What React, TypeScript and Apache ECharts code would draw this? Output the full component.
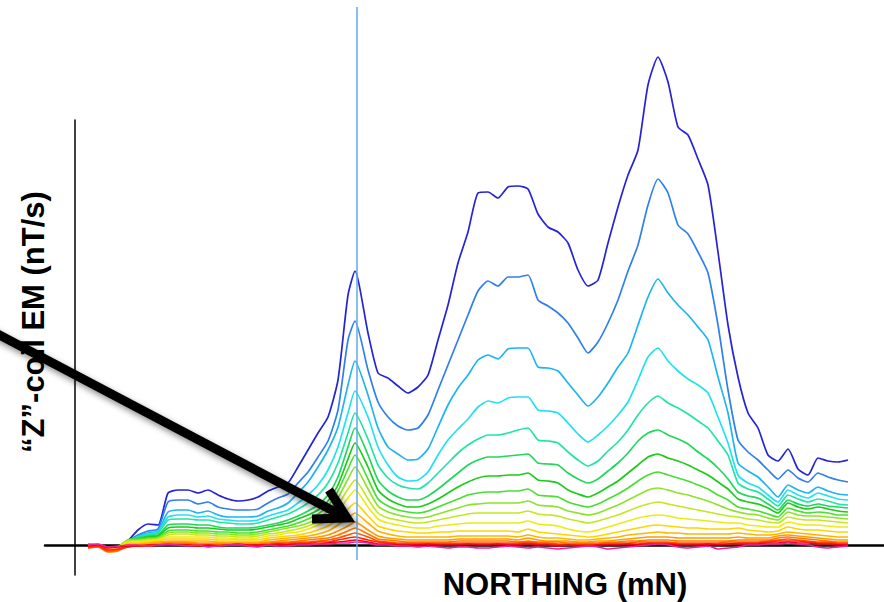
import React, { useEffect, useRef } from "react";
import * as echarts from "echarts";

// Station positions along the profile (arbitrary northing units)
const NORTHING = [
  13, 23, 33, 43, 53, 63, 73, 83, 93, 103, 113, 123, 133, 143, 153, 163, 173, 183, 193, 203,
  213, 223, 233, 243, 253, 263, 273, 280, 293, 303, 313, 323, 333, 343, 353, 363, 373, 383, 393, 403,
  413, 423, 433, 443, 453, 463, 473, 483, 493, 503, 513, 523, 533, 543, 553, 563, 573, 583, 593, 603,
  613, 623, 633, 643, 653, 663, 673, 683, 693, 703, 713, 723, 733, 743, 753, 763, 773,
];

// Z-coil EM decay channels (early -> late)
const CH1 = [1,0,-6,-5,4,15,21,20,52,55, 55,52,55,50,46,44,45,48,54,58, 62,78,95,112,128,165,250,274,212,172, 167,159,152,158,170,205,240,282,313,352, 353,347,358,359,356,331,318,313,302,275, 259,265,302,338,370,395,460,488,463,418, 410,386,360,293,220,168,132,117,90,84, 96,76,70,87,84,83,85];
const CH2 = [1,0,-5,-4,4,10,14,16,43,45, 45,41,43,38,36,35,35,36,42,47, 51,62,73,88,104,135,205,224,175,143, 128,119,115,117,130,155,180,205,230,254, 264,259,268,268,270,245,239,232,222,207, 192,203,222,245,274,300,340,366,352,320, 311,293,272,220,155,105,93,85,75,66, 75,67,63,72,68,65,63];
const CH3 = [1,0,-4,-3,4,9,12,14,33,35, 35,32,34,30,28,28,28,29,34,37, 42,52,63,78,95,118,160,184,150,117, 98,91,85,86,96,118,140,157,170,185, 190,186,196,197,197,178,177,174,162,150, 139,148,162,178,192,220,248,266,252,240, 230,218,205,168,132,82,74,68,58,48, 60,55,52,58,54,51,50];
const CH4 = [1,0,-4,-3,4,8,11,13,28,30, 30,28,29,26,25,24,24,25,29,32, 35,42,50,60,75,98,132,154,128,98, 80,68,64,65,73,90,105,116,126,138, 144,142,147,148,148,135,134,132,122,111, 103,110,119,130,143,165,188,197,184,174, 166,160,152,128,102,70,62,58,50,43, 55,50,47,52,49,46,45];
const CH5 = [1,0,-3,-3,4,8,10,12,25,26, 26,25,25,23,22,21,21,22,25,28, 31,36,42,50,62,82,112,132,106,80, 67,60,57,56,62,72,82,92,100,106, 110,110,112,115,117,105,104,102,93,85, 79,84,94,103,115,130,142,149,142,137, 131,124,117,104,90,62,56,53,46,39, 50,46,43,46,44,41,40];
const CH6 = [1,0,-3,-3,5,7,9,10,20,21, 21,20,20,18,17,17,17,18,20,22, 25,29,34,40,50,68,98,117,90,65, 54,48,45,45,49,56,64,72,80,85, 88,88,89,90,91,82,81,80,72,66, 62,66,74,82,92,104,112,115,110,106, 101,93,86,77,66,53,49,47,41,35, 45,41,39,41,39,38,37];
const CH7 = [1,0,-3,-2,5,6,8,9,17,18, 18,17,17,16,15,15,15,16,18,20, 22,26,30,35,44,60,86,102,78,55, 46,41,38,38,41,46,52,58,63,67, 69,69,70,70,72,65,64,62,55,51, 48,52,58,64,72,80,88,91,87,84, 80,75,70,63,56,46,43,41,37,32, 42,38,36,38,36,34,33];
const CH8 = [1,0,-3,-2,5,6,7,8,14,15, 15,14,14,13,13,12,12,13,15,17, 19,22,26,31,39,54,76,90,66,46, 39,35,33,32,34,38,42,46,50,52, 53,53,54,54,56,50,49,48,43,40, 38,41,46,51,57,64,70,73,70,67, 64,60,56,50,45,38,36,34,31,28, 37,34,32,33,32,30,30];
const CH9 = [0,1,-3,-2,5,5,6,7,12,13, 13,12,12,11,11,10,10,11,13,15, 17,19,22,27,34,47,66,78,56,39, 33,30,28,27,28,31,34,37,40,41, 42,42,42,42,44,40,39,38,34,32, 30,32,36,40,45,50,55,57,55,52, 50,47,44,40,36,33,31,30,27,25, 33,30,29,29,28,27,26];
const CH10 = [0,1,-3,-2,4,4,5,6,10,11, 11,10,10,9,9,8,8,9,11,12, 14,16,19,23,29,40,56,65,46,32, 27,25,23,22,23,25,27,29,31,32, 32,32,32,32,34,31,30,29,26,24, 22,24,27,30,34,38,41,43,41,39, 37,35,33,31,29,28,26,25,23,22, 28,26,25,25,24,23,22];
const CH11 = [0,1,-3,-2,3,3,4,5,8,8, 8,8,8,7,7,6,6,7,9,10, 12,13,16,20,25,34,47,55,38,26, 22,20,18,17,17,19,20,21,22,22, 22,22,22,22,24,21,20,19,16,14, 13,15,18,21,24,27,29,30,29,27, 26,25,24,23,22,22,20,19,18,18, 23,21,20,20,19,18,18];
const CH12 = [0,1,-4,-3,2,2,3,4,6,6, 6,6,6,5,5,5,5,5,7,8, 9,10,12,15,19,26,36,42,29,19, 16,14,13,12,12,13,13,14,14,14, 14,14,14,13,16,13,12,11,10,9, 8,9,11,13,15,17,19,20,19,18, 17,17,16,16,16,17,15,14,13,14, 18,16,15,15,14,13,13];
const CH13 = [-1,0,-5,-4,1,1,2,3,4,4, 4,4,4,3,3,3,3,3,5,6, 7,8,9,11,14,20,27,32,22,14, 11,9,8,8,8,8,8,9,9,9, 9,9,9,8,10,8,7,7,6,5, 5,6,7,8,10,11,12,13,12,12, 11,11,11,11,11,12,11,10,10,11, 13,12,11,10,9,8,8];
const CH14 = [-2,-1,-6,-5,0,0,1,2,3,3, 3,2,2,2,2,2,2,2,3,4, 5,6,7,8,10,14,19,23,15,9, 7,6,5,5,5,5,5,6,6,6, 6,6,6,5,7,5,4,4,4,3, 3,4,4,5,6,7,8,8,8,7, 7,7,7,7,7,8,7,7,7,9, 10,9,8,7,6,5,5];
const CH15 = [-3,-2,-7,-6,-1,-1,0,1,2,2, 2,1,1,1,1,1,1,1,2,3, 3,4,5,6,7,10,14,17,11,6, 5,4,3,3,3,3,3,4,4,4, 4,4,4,3,4,3,3,3,2,2, 2,2,3,3,4,4,5,5,5,4, 4,4,4,4,4,5,5,5,5,7, 8,7,6,5,4,3,3];
const CH16 = [-3,-2,-6,-5,-2,-1,-1,0,1,1, 1,0,0,0,0,0,0,0,1,2, 2,3,3,4,5,7,10,12,8,4, 3,2,2,2,2,2,2,2,2,2, 2,2,2,2,3,2,2,1,1,1, 1,1,2,2,2,3,3,3,3,2, 2,2,2,2,3,3,3,3,4,5, 6,5,4,3,3,2,2];
const CH17 = [-2,-1,-5,-4,-2,-1,-1,0,0,0, 0,-1,0,-1,0,0,-1,0,0,1, 1,2,2,3,3,5,7,8,5,3, 2,1,1,1,1,1,1,1,1,1, 1,1,1,1,2,1,1,0,0,0, 0,0,1,1,1,1,2,2,2,1, 1,1,1,1,1,2,2,2,3,4, 4,4,3,2,2,1,1];
const CH18 = [-1,0,-3,-2,-1,-1,0,0,0,0, 0,-1,0,-1,0,1,0,0,0,1, 0,1,1,1,2,3,4,5,3,1, 1,0,0,0,1,0,0,0,1,0, 0,1,0,0,1,0,0,-1,0,-1, -1,0,0,0,1,0,1,1,1,0, 0,0,1,0,1,1,1,1,2,2, 3,2,2,1,1,0,0];
const CH19 = [0,1,-2,-1,0,0,-1,0,1,0, -1,0,-2,-1,0,1,-1,-2,0,-1, -1,0,0,1,1,2,2,3,2,0, 0,-1,-1,-2,-1,-2,-3,-2,-2,-3, -3,-2,-1,-2,-3,-2,-3,-4,-3,-2, -1,-2,-4,-3,-2,-1,0,1,0,-2, -3,-2,-1,-4,-3,-2,0,0,1,1, 2,1,0,-2,-3,-2,-1];

const CHANNELS = [CH1, CH2, CH3, CH4, CH5, CH6, CH7, CH8, CH9, CH10, CH11, CH12, CH13, CH14, CH15, CH16, CH17, CH18, CH19];
const CHANNEL_COLORS = [
  "#2424d6", "#2f80ec", "#1eb4f0", "#22e2f0", "#22e4a6", "#20d85a", "#18cc18", "#48e030",
  "#8ce428", "#c4e820", "#ecec10", "#ffd400", "#ffb400", "#ff9a00", "#ff7a00", "#ff5400",
  "#ff2a00", "#f00020", "#f0209a",
];
const MARKER_NORTHING = 282;
const Y_LABEL = "\u201CZ\u201D-coil EM (nT/s)";
const X_LABEL = "NORTHING (mN)";

export default function App() {
  const ref = useRef<HTMLDivElement>(null);
  useEffect(() => {
    if (!ref.current) return;
    const chart = echarts.init(ref.current, undefined, { renderer: "svg" });
    const series = CHANNELS.map((vals, i) => ({
      name: "Ch" + (i + 1),
      type: "line",
      data: NORTHING.map((x, j) => [x, vals[j]]),
      showSymbol: false,
      symbol: "none",
      clip: false,
      smooth: 0.2,
      silent: true,
      z: 2 + i,
      lineStyle: { color: CHANNEL_COLORS[i], width: 1.7 },
    }));
    chart.setOption({
      animation: false,
      backgroundColor: "#ffffff",
      grid: { left: 45, right: 0, top: 120, bottom: 27 },
      xAxis: {
        type: "value",
        min: -30,
        max: 809,
        axisLine: { show: true, onZero: true, lineStyle: { color: "#000", width: 2.5 } },
        axisTick: { show: false },
        axisLabel: { show: false },
        splitLine: { show: false },
      },
      yAxis: {
        type: "value",
        min: -30,
        max: 425,
        axisLine: { show: true, onZero: true, lineStyle: { color: "#111", width: 1.6 } },
        axisTick: { show: false },
        axisLabel: { show: false },
        splitLine: { show: false },
      },
      series,
    });
    const mx = chart.convertToPixel({ xAxisIndex: 0 }, MARKER_NORTHING) as number;
    const font = 'bold 31px "Liberation Sans", Arial, sans-serif';
    chart.setOption({
      graphic: [
        {
          type: "line",
          z: 50,
          silent: true,
          shape: { x1: mx, y1: 7, x2: mx, y2: 560 },
          style: { stroke: "#62a8ee", lineWidth: 1.5 },
        },
        {
          type: "text",
          z: 60,
          x: 33,
          y: 322,
          rotation: Math.PI / 2,
          style: { text: Y_LABEL, font, fill: "#000", align: "center", verticalAlign: "middle" },
        },
        {
          type: "text",
          z: 60,
          x: 565,
          y: 584,
          style: { text: X_LABEL, font, fill: "#000", align: "center", verticalAlign: "middle" },
        },
        {
          type: "line",
          z: 70,
          shape: { x1: -10, y1: 330, x2: 341, y2: 515 },
          style: {
            stroke: "#000",
            lineWidth: 9,
            shadowBlur: 6,
            shadowColor: "rgba(0,0,0,0.45)",
            shadowOffsetX: 3,
            shadowOffsetY: 4,
          },
        },
        {
          type: "polyline",
          z: 71,
          shape: { points: [[329, 490], [347, 518], [312, 519]] },
          style: {
            stroke: "#000",
            lineWidth: 9,
            lineJoin: "miter",
            fill: null,
            shadowBlur: 6,
            shadowColor: "rgba(0,0,0,0.45)",
            shadowOffsetX: 3,
            shadowOffsetY: 4,
          },
        },
      ],
    });
    return () => chart.dispose();
  }, []);
  return (
    <div
      ref={ref}
      style={{ position: "fixed", left: 0, top: 0, width: 884, height: 602, background: "#fff" }}
    />
  );
}
